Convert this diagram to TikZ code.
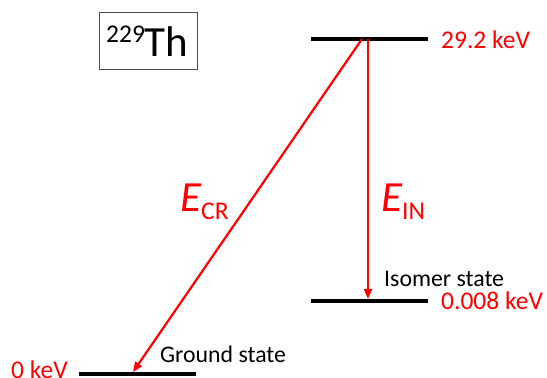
\documentclass[tikz,border=0pt]{standalone}
\usepackage{fontspec}
\setmainfont{Carlito}
\usetikzlibrary{arrows.meta}
\tikzset{
  level/.style={line width=4pt},
  trans/.style={red, line width=2.2pt, -{Triangle[length=10pt,width=8pt]}},
  redlabel/.style={red, inner sep=0pt, anchor=west, font=\fontsize{25.5}{28}\selectfont},
  statelabel/.style={black, inner sep=0pt, anchor=base west, font=\fontsize{23.8}{26}\selectfont},
  elabel/.style={red, inner sep=0pt, anchor=base west},
}
\begin{document}
\begin{tikzpicture}[x=1pt,y=1pt]
\useasboundingbox (0,0) rectangle (547,378);
% levels
\coordinate (tl) at (311,339); \coordinate (tr) at (428,339);
\coordinate (il) at (311,77);  \coordinate (ir) at (428,77);
\coordinate (gl) at (79,4);    \coordinate (gr) at (196,4);
\draw[level] (tl) -- (tr);
\draw[level] (il) -- (ir);
\draw[level] (gl) -- (gr);
% transitions
\coordinate (crs) at (362,339); \coordinate (cre) at (133,6);
\coordinate (ins) at (368,339); \coordinate (ine) at (368,79);
\draw[trans] (crs) -- (cre);
\draw[trans] (ins) -- (ine);
% energy labels
\node[redlabel] (e1) at (441,338) {29.2 keV};
\node[redlabel] (e2) at (441,77) {0.008 keV};
\node[redlabel] (e3) at (11,8) {0 keV};
% state labels
\node[statelabel] (iso) at (384,91) {Isomer state};
\node[statelabel] (gnd) at (160,16) {Ground state};
% transition labels
\node[elabel] (ecr) at (180,166) {\fontsize{43}{46}\selectfont\itshape E\raisebox{-8pt}{\fontsize{25.5}{28}\selectfont\upshape CR}};
\node[elabel] (ein) at (381,166) {\fontsize{43}{46}\selectfont\itshape E\raisebox{-8pt}{\fontsize{25.5}{28}\selectfont\upshape IN}};
% nucleus box
\draw[gray!60!black, line width=1pt] (99,365) rectangle (197,308);
\node[inner sep=0pt, anchor=base west] (th) at (106,321) {\raisebox{14pt}{\fontsize{25.5}{28}\selectfont 229}\fontsize{43}{46}\selectfont Th};
\end{tikzpicture}
\end{document}
